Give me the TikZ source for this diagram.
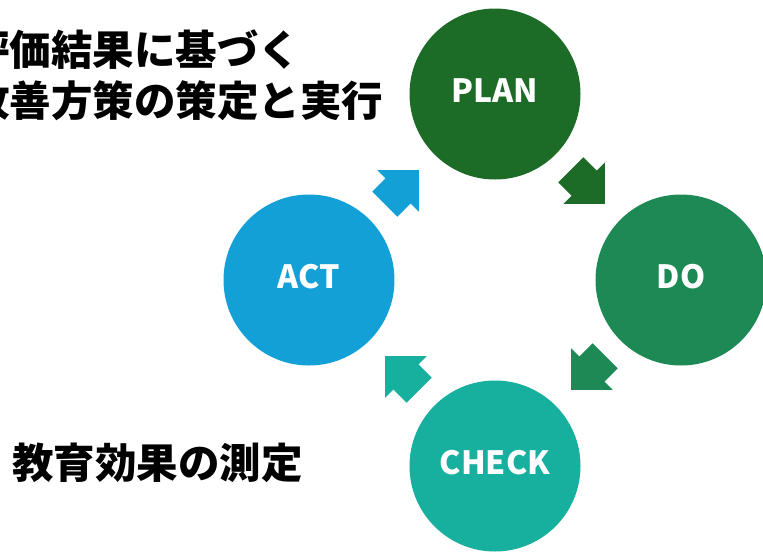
\documentclass[tikz,border=0pt]{standalone}
\usepackage{fontspec}
\setmainfont{Noto Sans CJK JP}
\usetikzlibrary{shapes.arrows,calc}

\definecolor{plancol}{HTML}{1C6B26}
\definecolor{docol}{HTML}{1D8A56}
\definecolor{checkcol}{HTML}{17AF9E}
\definecolor{actcol}{HTML}{13A0D7}

\begin{document}
\begin{tikzpicture}[x=1pt,y=-1pt]
        \useasboundingbox (0,0) rectangle (763,552);

        \begin{scope}[every node/.style={circle,minimum size=171pt,inner sep=0pt,text=white,text depth=7pt,font=\bfseries\fontsize{32}{32}\selectfont}]
          \node[fill=plancol]  (plan)  at (495,94)  {PLAN};
          \node[fill=docol]    (do)    at (681,280) {DO};
          \node[fill=checkcol] (check) at (495,466) {CHECK};
          \node[fill=actcol]   (act)   at (309,280) {ACT};
        \end{scope}

        % tips sit 24pt past the midpoint between two circles
        \begin{scope}[every node/.style={single arrow,anchor=tip,inner xsep=0pt,inner ysep=17.5pt,minimum height=48pt,single arrow head extend=11.5pt}]
          \node[fill=plancol,rotate=-45]   (plando)   at ($(plan)!0.5!(do)!24pt!(do)$)       {};
          \node[fill=docol,rotate=-135]    (docheck)  at ($(do)!0.5!(check)!24pt!(check)$)   {};
          \node[fill=checkcol,rotate=135]  (checkact) at ($(check)!0.5!(act)!24pt!(act)$)    {};
          \node[fill=actcol,rotate=45]     (actplan)  at ($(act)!0.5!(plan)!24pt!(plan)$)    {};
        \end{scope}

        \begin{scope}[every node/.style={inner sep=0pt,font=\bfseries\fontsize{41.5}{51}\selectfont}]
          \node[anchor=north west,align=left] (improve) at (-32,29) {評価結果に基づく\\改善方策の策定と実行};
          \node[anchor=west] (measure) at (12,463) {教育効果の測定};
        \end{scope}

\end{tikzpicture}
\end{document}
